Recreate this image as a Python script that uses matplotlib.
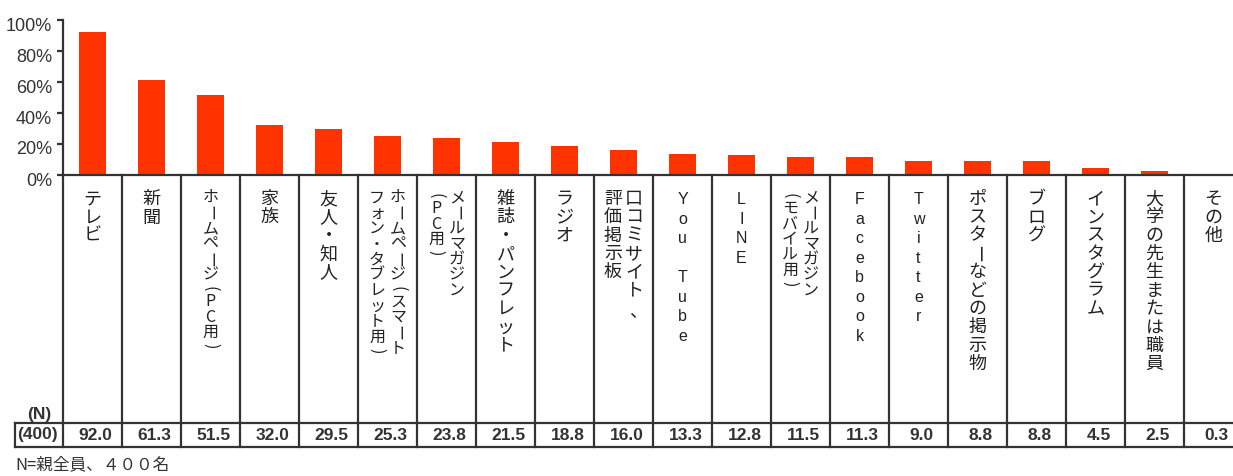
import matplotlib
matplotlib.use("Agg")
import matplotlib.pyplot as plt
from matplotlib.transforms import ScaledTranslation

plt.rcParams['font.family'] = ['Liberation Sans', 'Noto Sans CJK JP', 'DejaVu Sans']

# information sources (one column each, "\n" = next vertical line to the left)
categorias = [
    "テレビ", "新聞", "ホームページ(PC用)", "家族", "友人・知人",
    "ホームページ(スマート\nフォン・タブレット用)", "メールマガジン\n(PC用)",
    "雑誌・パンフレット", "ラジオ", "口コミサイト、\n評価掲示板", "You Tube", "LINE",
    "メールマガジン\n(モバイル用)", "Facebook", "Twitter", "ポスターなどの掲示物",
    "ブログ", "インスタグラム", "大学の先生または職員", "その他",
]
porcentajes = [92.0, 61.3, 51.5, 32.0, 29.5, 25.3, 23.8, 21.5, 18.8, 16.0,
               13.3, 12.8, 11.5, 11.3, 9.0, 8.8, 8.8, 4.5, 2.5, 0.3]
marcas_y = [0, 20, 40, 60, 80, 100]
etiquetas_y = ["0%", "20%", "40%", "60%", "80%", "100%"]
titulo_n = "(N)"
total_n = "(400)"
nota = "N=親全員、４００名"

W, H = 1233, 476
COL = 59.0      # column width in px
X0 = 63         # left edge of the first column
TOP_T = 175     # top of the table (0% line)
GRIS = "#333333"

fig = plt.figure(figsize=(W / 100, H / 100), dpi=100)


def caja(top, bottom):
    return [X0 / W, (H - bottom) / H, len(porcentajes) * COL / W, (bottom - top) / H]


# bars
ax = fig.add_axes(caja(20, TOP_T))
xs = [i + 0.5 for i in range(len(porcentajes))]
ax.bar(xs, porcentajes, width=0.46, color="#ff3300", zorder=2)
ax.set_xlim(0, len(porcentajes))
ax.set_ylim(0, 100)
ax.set_yticks(marcas_y)
ax.set_yticklabels(etiquetas_y)
ax.set_xticks([])
for s in ["top", "right"]:
    ax.spines[s].set_visible(False)
for s in ["left", "bottom"]:
    ax.spines[s].set_color(GRIS)
    ax.spines[s].set_linewidth(1.6)
    ax.spines[s].set_zorder(3)
ax.tick_params(axis="y", direction="out", length=4, width=1.6, color=GRIS,
               pad=4, labelsize=13, labelcolor=GRIS)
bajar = ScaledTranslation(0, -4 / 100, fig.dpi_scale_trans)
for lab in ax.get_yticklabels():
    lab.set_transform(lab.get_transform() + bajar)

# table under the bars, y in px from the 0% line
tb = fig.add_axes(caja(TOP_T, 447))
tb.set_xlim(0, len(porcentajes))
tb.set_ylim(447 - TOP_T, 0)
tb.axis("off")

x_izq = (15 - X0) / COL
fila = 423 - TOP_T
fondo = 447 - TOP_T
for k in range(len(porcentajes) + 1):
    tb.plot([k, k], [0, fondo], color=GRIS, lw=1.6, clip_on=False)
for yy in [fila, fondo]:
    tb.plot([x_izq, len(porcentajes)], [yy, yy], color=GRIS, lw=1.6, clip_on=False)
tb.plot([x_izq, x_izq], [fila, fondo], color=GRIS, lw=1.6, clip_on=False)


def vertical(xc, texto):
    lineas = texto.split("\n")
    latin = texto.replace(" ", "").isascii()
    compacto = "(" in texto
    if latin:
        paso, size, fam = 19.5, 11.5, ['Liberation Sans']
    elif compacto:
        paso, size, fam = 15.5, 11.5, ['Noto Sans CJK JP', 'DejaVu Sans']
    else:
        paso, size, fam = 18.3, 13, ['Noto Sans CJK JP', 'DejaVu Sans']
    n = len(lineas)
    for j, linea in enumerate(lineas):
        x = xc + ((n - 1) / 2 - j) * 21 / COL
        y = 190 - TOP_T
        for ch in linea:
            h = 11 if ch in "()" else paso
            if ch != " ":
                rot = -90 if ch in "ー()" else 0
                dx, dy = 0, 0
                if ch == "、":
                    dx, dy = 4 / COL, 3
                tb.text(x + dx, y + h / 2 + dy, ch, rotation=rot, ha="center",
                        va="center", fontsize=size, color="#222222", family=fam)
            y += h


for i, nombre in enumerate(categorias):
    vertical(i + 0.5, nombre)

# value row
for i, v in enumerate(porcentajes):
    tb.text(i + 0.55, (fila + fondo) / 2, f"{v:.1f}", ha="center", va="center",
            fontsize=12.5, weight="bold", color=GRIS)
tb.text((39 - X0) / COL, 414 - TOP_T, titulo_n, ha="center", va="center",
        fontsize=12.5, weight="bold", color=GRIS)
tb.text((17 - X0) / COL, (fila + fondo) / 2, total_n, ha="left", va="center",
        fontsize=12.5, weight="bold", color=GRIS)

fig.text(15 / W, 1 - 465 / H, nota, fontsize=12, color=GRIS, va="center",
         family=['Noto Sans CJK JP', 'DejaVu Sans'])

fig.savefig("out.png", dpi=100)
